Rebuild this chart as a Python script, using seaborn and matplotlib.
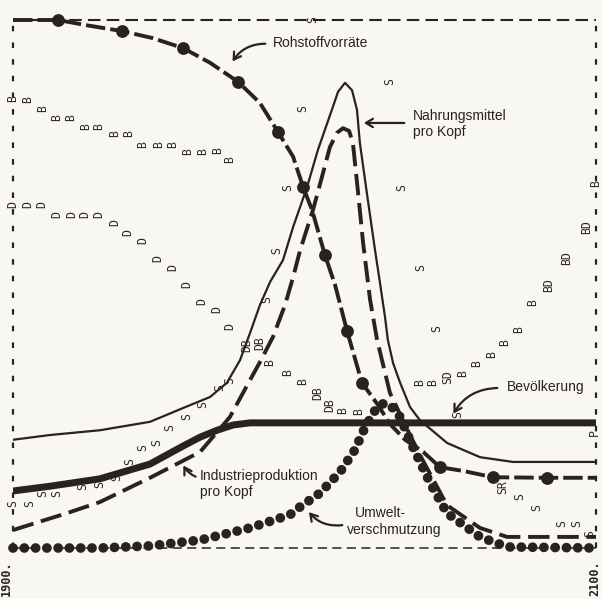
import matplotlib
matplotlib.use("Agg")
import matplotlib.pyplot as plt
import seaborn as sns
import numpy as np
import pandas as pd

# ---------------- data (years, relative level 0-100) ----------------
res_years = [1900, 1915.4, 1926.4, 1937.4, 1947.7, 1958.3, 1967.6, 1977.2, 1984.7, 1990.9,
             1996.1, 1999.5, 2002.6, 2007.0, 2010.5, 2014.6, 2019.7, 2025.2, 2029.3, 2034.5,
             2040.7, 2046.5, 2054.4, 2064.7, 2083.2, 2100]
res_vals = [100, 100, 98.9, 97.9, 96.6, 94.7, 91.9, 88.3, 84.3, 78.8,
            74.1, 68.4, 64.0, 55.5, 49.8, 41.1, 31.3, 27.1, 23.5, 20.5,
            18.2, 15.3, 14.6, 13.4, 13.3, 13.3]
res_dot_idx = [1, 3, 5, 7, 9, 11, 13, 15, 16, 21, 23, 24]

food_years = [1900, 1912.7, 1929.8, 1947.0, 1958.3, 1967.6, 1973.4, 1977.9, 1981.3, 1984.7,
              1988.2, 1992.6, 1996.1, 2000.9, 2004.6, 2009.4, 2011.5, 2013.9, 2016.3, 2018.0,
              2019.0, 2021.4, 2024.2, 2025.9, 2027.6, 2028.6, 2030.4, 2032.8, 2036.2, 2039.6,
              2048.9, 2060.2, 2071.5, 2100]
food_vals = [20.5, 21.4, 22.3, 23.9, 26.5, 28.6, 31.3, 35.6, 40.7, 46.0,
             50.4, 54.5, 60.8, 68.4, 75.4, 83.0, 86.4, 88.1, 86.7, 83.0,
             76.7, 67.2, 56.4, 50.2, 43.8, 39.4, 35.0, 31.3, 26.7, 24.2,
             19.9, 17.2, 16.3, 16.3]

ind_years = [1900, 1918.5, 1929.8, 1947.0, 1964.2, 1974.4, 1981.3, 1984.7, 1989.2, 1993.3,
             1996.1, 1998.5, 2002.9, 2006.0, 2008.7, 2011.1, 2013.2, 2015.3, 2016.6, 2018.4,
             2020.1, 2022.5, 2024.9, 2029.3, 2034.5, 2039.6, 2048.9, 2060.2, 2069.5, 2100]
ind_vals = [3.4, 6.6, 8.7, 13.3, 18.2, 24.8, 31.8, 35.2, 40.0, 46.0,
            51.3, 56.4, 64.0, 70.3, 75.9, 78.6, 79.5, 79.0, 76.7, 67.2,
            57.8, 47.0, 39.4, 29.4, 23.3, 17.6, 8.1, 3.8, 2.1, 2.1]

pop_years = [1900, 1912.7, 1929.8, 1947.0, 1958.3, 1964.2, 1970.0, 1975.5, 1981.3, 2100]
pop_vals = [10.8, 11.7, 13.1, 15.9, 19.3, 21.0, 22.3, 23.3, 23.7, 23.7]

pol_years = [1900, 1929.8, 1947.0, 1964.2, 1981.3, 1995.0, 1998.5, 2005.3, 2012.2, 2017.3,
             2020.8, 2024.9, 2027.6, 2030.4, 2032.8, 2037.2, 2043.1, 2048.9, 2060.2, 2069.5, 2100]
pol_vals = [0, 0, 0.4, 1.5, 3.8, 6.3, 7.8, 10.4, 14.4, 18.6,
            22.9, 26.7, 27.5, 26.5, 24.8, 19.1, 12.3, 6.6, 2.1, 0.2, 0]

# printout letters: B = birth rate, D = death rate, S = services per capita
B_years = [1900, 1905.1, 1910.3, 1915.1, 1919.9, 1925.0, 1929.5, 1935.0, 1939.5, 1944.6,
           1950.1, 1954.9, 1960.0, 1965.2, 1970.3, 1974.4,
           1988.2, 1994.3, 1999.5, 2013.2, 2018.4, 2039.6, 2044.1, 2054.4, 2059.2, 2064.3,
           2068.7, 2073.5, 2078.4, 2099.7]
B_vals = [85.2, 85.0, 83.3, 81.6, 81.6, 79.9, 79.9, 78.4, 78.4, 76.5,
          76.5, 76.5, 75.0, 75.0, 75.2, 73.5,
          35.2, 33.3, 31.6, 26.1, 25.8, 31.3, 31.3, 33.1, 35.0, 36.6,
          39.0, 41.3, 46.4, 69.1]
D_years = [1900, 1905.1, 1909.9, 1915.1, 1920.2, 1924.7, 1929.5, 1935.0, 1939.5, 1944.6,
           1949.7, 1954.9, 1959.7, 1964.8, 1970.0, 1974.4]
D_vals = [65.0, 65.0, 65.0, 63.1, 63.1, 63.1, 63.1, 61.6, 59.8, 58.3,
          54.9, 53.2, 49.8, 46.6, 45.1, 41.9]
S_years = [1900, 1905.8, 1910.3, 1915.1, 1924.0, 1929.8, 1935.7, 1940.1, 1944.6, 1949.4,
           1953.9, 1959.7, 1965.2, 1971.0, 1974.4, 1987.1, 1990.5, 1994.3, 1999.5, 2002.9,
           2029.3, 2033.4, 2040.0, 2045.5, 2052.7, 2073.9, 2079.8, 2088.3, 2093.5, 2097.9]
S_vals = [8.5, 8.5, 10.4, 10.4, 11.6, 12.1, 13.4, 16.3, 19.1, 19.9,
          22.9, 24.8, 27.1, 30.3, 31.8, 47.0, 56.4, 68.2, 83.3, 100,
          88.4, 68.2, 53.2, 41.5, 25.2, 9.7, 7.6, 4.7, 4.7, 2.8]
combo_labels = ["DB", "DB", "DB", "DB", "SD", "BD", "BD", "BD", "SR", "P"]
combo_years = [1980.3, 1984.7, 2004.6, 2008.7, 2049.2, 2083.9, 2090.0, 2096.9, 2068.1, 2099.6]
combo_vals = [38.4, 38.8, 29.4, 27.1, 32.4, 49.8, 54.9, 60.8, 11.6, 21.8]

# ---------------- style ----------------
INK = "#2a221f"
PAPER = "#f8f7f1"
sns.set_style("white")
plt.rcParams["font.family"] = ["Liberation Sans", "DejaVu Sans"]

fig = plt.figure(figsize=(6.02, 5.99), dpi=100)
fig.patch.set_facecolor(PAPER)
ax = fig.add_axes([13 / 602, 51 / 599, 583 / 602, 528 / 599])
ax.set_facecolor("none")
ax.set_xlim(1900, 2100)
ax.set_ylim(0, 100)
for s in ax.spines.values():
    s.set_visible(False)
ax.set_xticks([])
ax.set_yticks([])

# dashed frame
ax.axhline(100, color=INK, lw=1.5, ls=(0, (6, 3)), clip_on=False, zorder=1)
ax.axhline(0, color=INK, lw=1.1, ls=(0, (6, 3.5)), clip_on=False, zorder=1)
ax.axvline(1900, color=INK, lw=1.6, ls=(0, (2.5, 5)), clip_on=False, zorder=1)
ax.axvline(2100, color=INK, lw=1.6, ls=(0, (2.5, 5)), clip_on=False, zorder=1)

# printout letters
letter_kw = dict(rotation=90, ha="center", va="center", fontsize=8.3,
                 family="DejaVu Sans Mono", color="#2f2724", zorder=2, clip_on=False)
for x, y in zip(B_years, B_vals):
    ax.text(x, y, "B", **letter_kw)
for x, y in zip(D_years, D_vals):
    ax.text(x, y, "D", **letter_kw)
for x, y in zip(S_years, S_vals):
    ax.text(x, y, "S", **letter_kw)
for t, x, y in zip(combo_labels, combo_years, combo_vals):
    ax.text(x, y, t, **letter_kw)

# curves
common = dict(ax=ax, color=INK, estimator=None, sort=False, legend=False)
sns.lineplot(x=pol_years, y=pol_vals, linewidth=7.0, linestyle=(0, (0.01, 1.15)),
             dash_capstyle="round", clip_on=False, zorder=4, **common)
sns.lineplot(x=res_years, y=res_vals, linewidth=2.8, linestyle=(0, (5, 1.3)),
             clip_on=False, zorder=5, **common)
res_dots = pd.DataFrame({"x": np.array(res_years)[res_dot_idx], "y": np.array(res_vals)[res_dot_idx]})
sns.scatterplot(data=res_dots, x="x", y="y", ax=ax, color=INK, s=85, linewidth=0,
                zorder=6, clip_on=False, legend=False)
sns.lineplot(x=ind_years, y=ind_vals, linewidth=2.8, linestyle=(0, (5.5, 2.0)),
             zorder=5, **common)
sns.lineplot(x=food_years, y=food_vals, linewidth=1.6, zorder=5, **common)
sns.lineplot(x=pop_years, y=pop_vals, linewidth=5.0, solid_capstyle="butt", zorder=6, **common)

# labels with arrows
txt_kw = dict(fontsize=10, color=INK, zorder=8)
arr = dict(arrowstyle="->,head_length=0.5,head_width=0.3", color=INK, lw=1.6)
ax.text(1989.2, 95.6, "Rohstoffvorräte", ha="left", va="center", **txt_kw)
ax.annotate("", xy=(1974.8, 91.7), xytext=(1987.5, 95.5),
            arrowprops=dict(connectionstyle="arc3,rad=0.3", **arr))
ax.text(2037.2, 80.3, "Nahrungsmittel\npro Kopf", ha="left", va="center",
        linespacing=1.1, **txt_kw)
ax.annotate("", xy=(2019.4, 80.5), xytext=(2035.2, 80.5),
            arrowprops=dict(connectionstyle="arc3,rad=0", **arr))
ax.text(2069.5, 30.5, "Bevölkerung", ha="left", va="center", **txt_kw)
ax.annotate("", xy=(2050.6, 25.0), xytext=(2067.1, 30.3),
            arrowprops=dict(connectionstyle="arc3,rad=0.3", **arr))
ax.text(1964.2, 12.1, "Industrieproduktion\npro Kopf", ha="left", va="center",
        linespacing=1.15, **txt_kw)
ax.annotate("", xy=(1958.0, 16.1), xytext=(1963.5, 13.3),
            arrowprops=dict(connectionstyle="arc3,rad=-0.2", **arr))
ax.text(2017.3, 6.6, "Umwelt-", ha="left", va="center", **txt_kw)
ax.text(2014.6, 3.4, "verschmutzung", ha="left", va="center", **txt_kw)
ax.annotate("", xy=(2000.9, 7.2), xytext=(2013.9, 4.4),
            arrowprops=dict(connectionstyle="arc3,rad=-0.3", **arr))

# year labels
yr_kw = dict(rotation=90, ha="center", va="center", fontsize=8.5, fontweight="bold",
             family="DejaVu Sans Mono", color=INK, clip_on=False)
ax.text(1897.8, -5.7, "1900.", **yr_kw)
ax.text(2099.6, -5.7, "2100.", **yr_kw)

fig.savefig("out.png", dpi=100, facecolor=PAPER)
